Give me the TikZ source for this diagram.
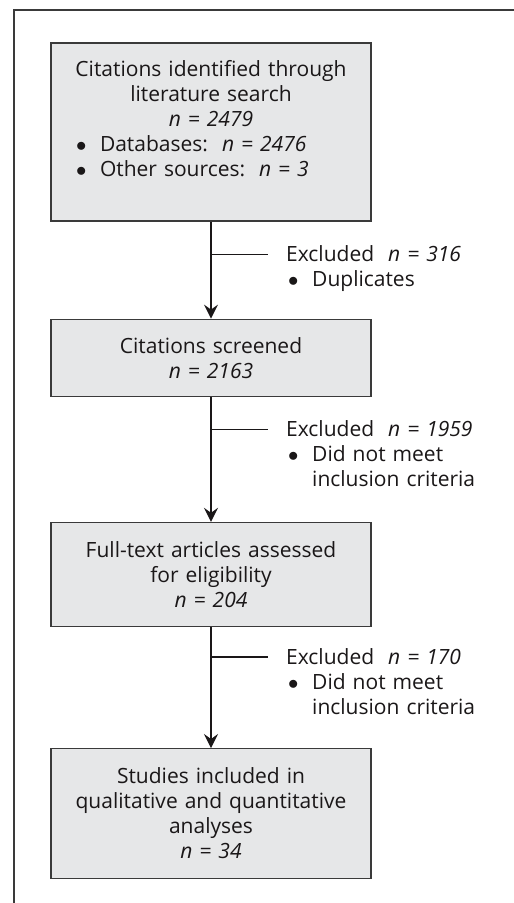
\documentclass[tikz,border=0pt]{standalone}
\usepackage{fontspec}
\setmainfont{Open Sans}
\usetikzlibrary{positioning,arrows.meta}

\definecolor{boxgray}{HTML}{E6E7E8}
\definecolor{rulegray}{HTML}{3A3A3A}
\definecolor{inkgray}{HTML}{1A1718}

\newcommand{\flowfont}{\fontsize{21}{25}\selectfont}
\newcommand{\bul}[1]{\hspace*{#1}\makebox[24pt][l]{$\bullet$}}

\tikzset{
  stagebox/.style={draw=rulegray, fill=boxgray, line width=1.2pt,
    text width=300pt, inner xsep=10pt, inner ysep=0pt,
    align=center, font=\flowfont, text=inkgray},
  exclnote/.style={anchor=north west, inner sep=0pt, text width=220pt,
    align=left, font=\flowfont, text=inkgray},
  flow/.style={draw=inkgray, line width=1.2pt,
    -{Stealth[length=14pt,width=14pt,inset=5pt]}},
  branch/.style={draw=inkgray, line width=1.2pt},
  framerule/.style={draw=rulegray, line width=1.3pt}
}

\begin{document}
\begin{tikzpicture}[x=1pt, y=-1pt]
\useasboundingbox (0,0) rectangle (514,903);

% outer frame (top and left only)
\draw[framerule] (14,903) -- (14,10) -- (514,10);

% stages
\node[stagebox, minimum height=178pt] (b1) at (211,132) {%
  Citations identified through\\ literature search\\ \textit{n = 2479}\par
  \raggedright
  \bul{15pt}Databases:\ \ \textit{n = 2476}\\
  \bul{15pt}Other sources:\ \ \textit{n = 3}\par\vspace*{26pt}};
\node[stagebox, minimum height=77pt, below=97pt of b1] (b2)
  {Citations screened\\ \textit{n = 2163}};
\node[stagebox, minimum height=104pt, below=125pt of b2] (b3)
  {Full-text articles assessed\\ for eligibility\\ \textit{n = 204}};
\node[stagebox, minimum height=130pt, below=121pt of b3] (b4)
  {Studies included in\\ qualitative and quantitative\\ analyses\\ \textit{n = 34}};

% junctions on the trunk
\coordinate[below=33pt of b1] (j1);
\coordinate[below=33pt of b2] (j2);
\coordinate[below=30pt of b3] (j3);
\foreach \j in {1,2,3}
  \coordinate[right=57pt of j\j] (k\j);

% exclusions
\node[exclnote] (x1) at ([xshift=18pt,yshift=9pt]k1)
  {Excluded\ \ \textit{n = 316}\\ \bul{2pt}Duplicates};
\node[exclnote] (x2) at ([xshift=18pt,yshift=9pt]k2)
  {Excluded\ \ \textit{n = 1959}\\ \bul{2pt}Did not meet\\ \hspace*{26pt}inclusion criteria};
\node[exclnote] (x3) at ([xshift=18pt,yshift=9pt]k3)
  {Excluded\ \ \textit{n = 170}\\ \bul{2pt}Did not meet\\ \hspace*{26pt}inclusion criteria};

\foreach \s/\d in {b1/b2,b2/b3,b3/b4}
  \draw[flow] (\s) -- (\d);
\foreach \j in {1,2,3}
  \draw[branch] (j\j) -- (k\j);

\end{tikzpicture}
\end{document}
